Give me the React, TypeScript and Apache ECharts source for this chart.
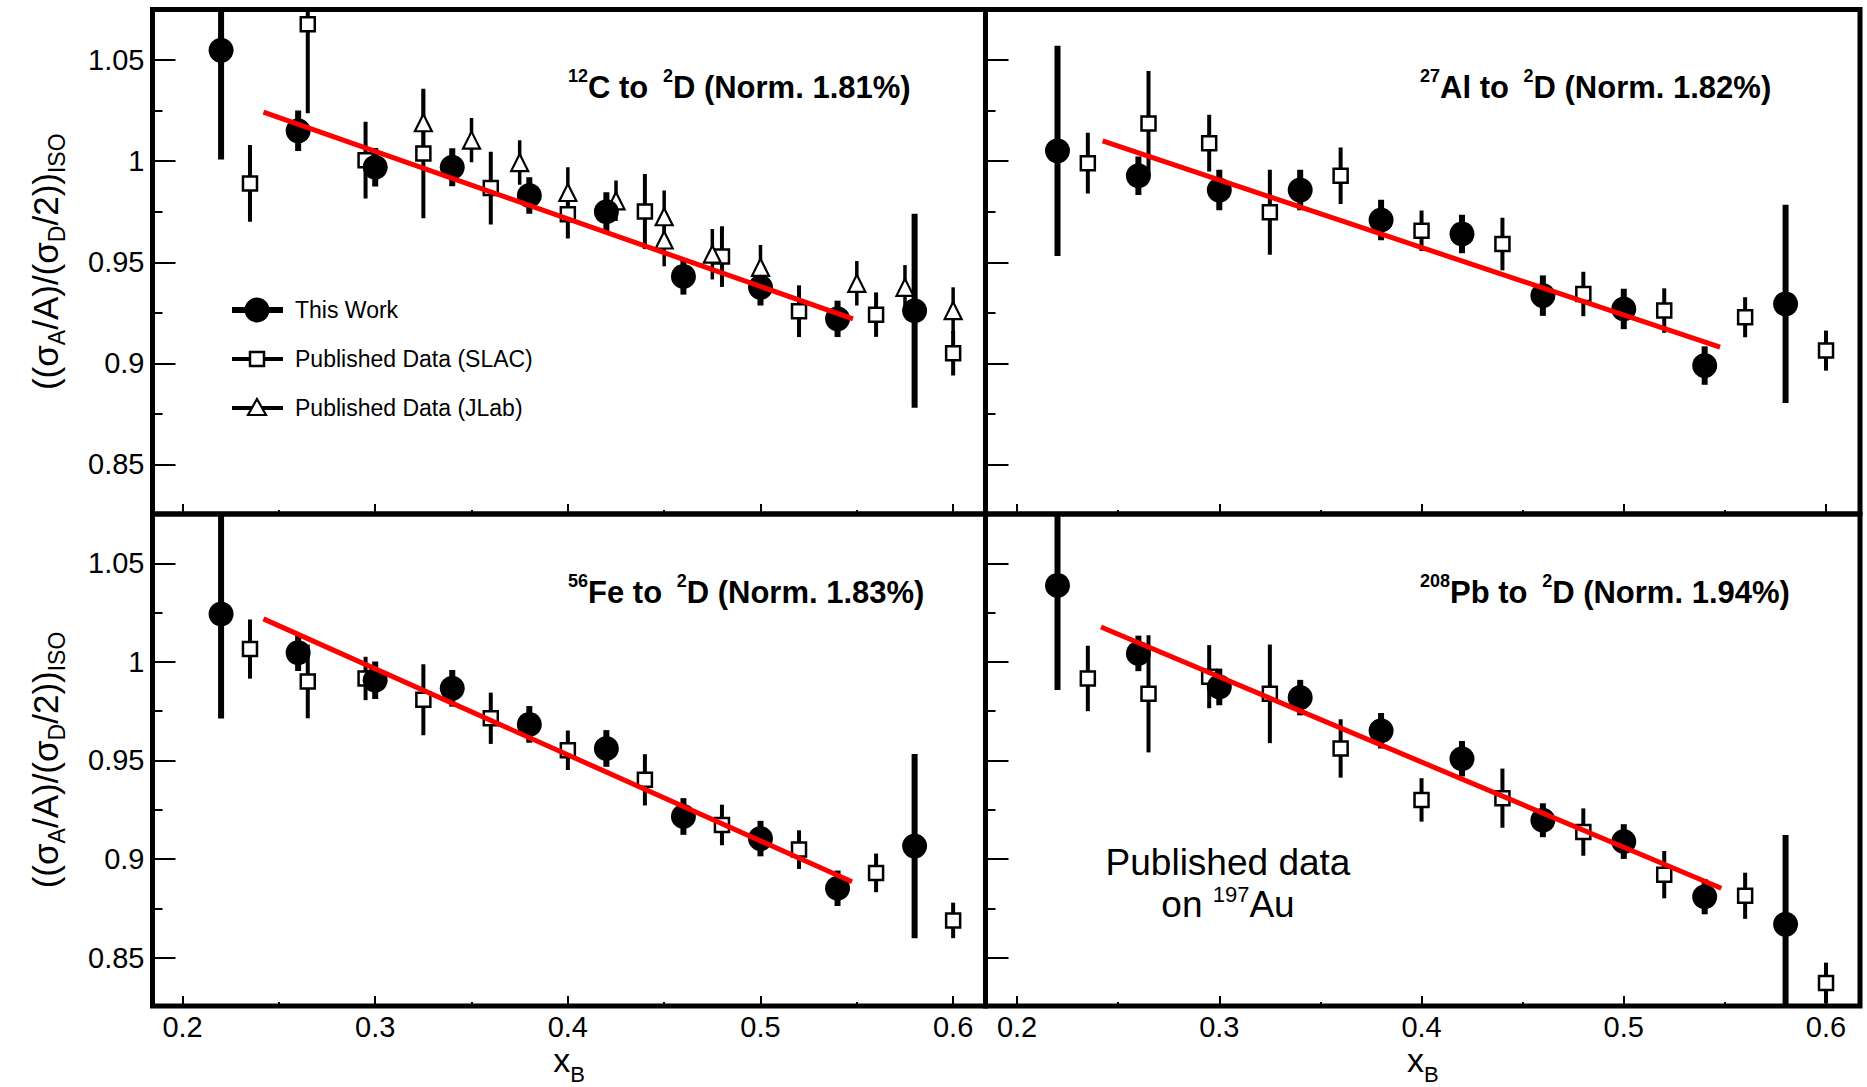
import React, { useEffect, useRef } from 'react';
import * as echarts from 'echarts';

const FONT = '"Liberation Sans", Arial, Helvetica, sans-serif';

// axis ticks
const xMajorTicks = [0.2, 0.3, 0.4, 0.5, 0.6];
const xMinorTicks = [0.25, 0.35, 0.45, 0.55];
const yMajorTicks = [0.85, 0.9, 0.95, 1, 1.05];
const yMinorTicks = [0.875, 0.925, 0.975, 1.025];

// x positions (x_B)
const thisWorkX = [0.22, 0.26, 0.3, 0.34, 0.38, 0.42, 0.46, 0.5, 0.54, 0.58];
const slacX = [0.235, 0.265, 0.295, 0.325, 0.36, 0.4, 0.44, 0.48, 0.52, 0.56, 0.6];
const jlabX = [0.325, 0.35, 0.375, 0.4, 0.425, 0.45, 0.45, 0.475, 0.5, 0.55, 0.575, 0.6];

// 12C
const carbonThisWorkY = [1.0548, 1.015, 0.997, 0.997, 0.983, 0.975, 0.943, 0.9376, 0.922, 0.926];
const carbonThisWorkErr = [0.054, 0.01, 0.0095, 0.0094, 0.009, 0.0096, 0.009, 0.009, 0.009, 0.048];
const carbonSlacY = [0.989, 1.0677, 1.0005, 1.0038, 0.9867, 0.9738, 0.9751, 0.9528, 0.9258, 0.9241, 0.905];
const carbonSlacErr = [0.019, 0.044, 0.019, 0.032, 0.018, 0.012, 0.0185, 0.015, 0.0128, 0.011, 0.011];
const carbonJlabY = [1.019, 1.0104, 0.9993, 0.9845, 0.9804, 0.9725, 0.961, 0.954, 0.9475, 0.9396, 0.9376, 0.9261];
const carbonJlabErr = [0.016, 0.011, 0.011, 0.0125, 0.01, 0.013, 0.013, 0.0125, 0.011, 0.011, 0.011, 0.0115];
const carbonFitX = [0.242, 0.548];
const carbonFitY = [1.0242, 0.922];

// 27Al
const aluminumThisWorkY = [1.0051, 0.9928, 0.9857, 0.9857, 0.9709, 0.964, 0.9335, 0.9269, 0.8989, 0.9294];
const aluminumThisWorkErr = [0.052, 0.0095, 0.01, 0.01, 0.01, 0.0095, 0.01, 0.01, 0.0095, 0.049];
const aluminumSlacY = [0.999, 1.0186, 1.0089, 0.9747, 0.9928, 0.9656, 0.959, 0.9343, 0.9261, 0.9228, 0.9063];
const aluminumSlacErr = [0.015, 0.026, 0.014, 0.021, 0.014, 0.01, 0.013, 0.011, 0.011, 0.0099, 0.0099];
const aluminumFitX = [0.2423, 0.5476];
const aluminumFitY = [1.01, 0.908];

// 56Fe
const ironThisWorkY = [1.0243, 1.0047, 0.9907, 0.9866, 0.9683, 0.9561, 0.9216, 0.9104, 0.8852, 0.9066];
const ironThisWorkErr = [0.053, 0.0093, 0.0095, 0.0093, 0.0093, 0.0093, 0.0093, 0.009, 0.009, 0.0467];
const ironSlacY = [1.0065, 0.9901, 0.9916, 0.9808, 0.9714, 0.9552, 0.9402, 0.9173, 0.9048, 0.893, 0.8689];
const ironSlacErr = [0.015, 0.0187, 0.011, 0.018, 0.013, 0.01, 0.013, 0.0103, 0.0098, 0.0098, 0.009];
const ironFitX = [0.242, 0.5475];
const ironFitY = [1.0218, 0.8885];

// 208Pb (published data on 197Au)
const leadThisWorkY = [1.0388, 1.0043, 0.9873, 0.9819, 0.9651, 0.9509, 0.9197, 0.9089, 0.8809, 0.8669];
const leadThisWorkErr = [0.053, 0.009, 0.0093, 0.009, 0.009, 0.009, 0.0086, 0.0088, 0.0089, 0.0453];
const leadSlacY = [0.9916, 0.9838, 0.9925, 0.9838, 0.9561, 0.93, 0.9309, 0.9137, 0.8921, 0.8814, 0.8372];
const leadSlacErr = [0.0166, 0.0297, 0.016, 0.025, 0.0148, 0.011, 0.015, 0.012, 0.012, 0.0117, 0.0103];
const leadFitX = [0.2415, 0.5482];
const leadFitY = [1.0177, 0.8852];

const X_MIN = 0.1844;
const X_MAX = 0.6168;
const Y_MIN = 0.8255;
const Y_MAX = 1.075;

const LEFT_X = 152.5, MID_X = 985.5, RIGHT_X = 1860;
const TOP_Y = 9.5, MID_Y = 514, BOTTOM_Y = 1006;

type Panel = {
  grid: { left: number; top: number; width: number; height: number };
  title: string;
  titleLeft: number;
  titleTop: number;
  tw: [number[], number[]];
  slac: [number[], number[]];
  jlab?: [number[], number[]];
  fit: [number[], number[]];
  xLabels: boolean;
  yLabels: boolean;
};

const panels: Panel[] = [
  {
    grid: { left: LEFT_X, top: TOP_Y, width: MID_X - LEFT_X, height: MID_Y - TOP_Y },
    title: '{sup|12}{b|C to }{supg|2}{b|D (Norm. 1.81%)}', titleLeft: 568, titleTop: 67,
    tw: [carbonThisWorkY, carbonThisWorkErr], slac: [carbonSlacY, carbonSlacErr], jlab: [carbonJlabY, carbonJlabErr],
    fit: [carbonFitX, carbonFitY], xLabels: false, yLabels: true,
  },
  {
    grid: { left: MID_X, top: TOP_Y, width: RIGHT_X - MID_X, height: MID_Y - TOP_Y },
    title: '{sup|27}{b|Al to }{supg|2}{b|D (Norm. 1.82%)}', titleLeft: 1420, titleTop: 67,
    tw: [aluminumThisWorkY, aluminumThisWorkErr], slac: [aluminumSlacY, aluminumSlacErr],
    fit: [aluminumFitX, aluminumFitY], xLabels: false, yLabels: false,
  },
  {
    grid: { left: LEFT_X, top: MID_Y, width: MID_X - LEFT_X, height: BOTTOM_Y - MID_Y },
    title: '{sup|56}{b|Fe to }{supg|2}{b|D (Norm. 1.83%)}', titleLeft: 568, titleTop: 572,
    tw: [ironThisWorkY, ironThisWorkErr], slac: [ironSlacY, ironSlacErr],
    fit: [ironFitX, ironFitY], xLabels: true, yLabels: true,
  },
  {
    grid: { left: MID_X, top: MID_Y, width: RIGHT_X - MID_X, height: BOTTOM_Y - MID_Y },
    title: '{sup|208}{b|Pb to }{supg|2}{b|D (Norm. 1.94%)}', titleLeft: 1420, titleTop: 572,
    tw: [leadThisWorkY, leadThisWorkErr], slac: [leadSlacY, leadSlacErr],
    fit: [leadFitX, leadFitY], xLabels: true, yLabels: false,
  },
];

const errorBars = (name: string, idx: number, xs: number[], ys: number[], errs: number[], width: number) => ({
  type: 'custom',
  name,
  xAxisIndex: idx,
  yAxisIndex: idx,
  clip: true,
  silent: true,
  z: 2,
  encode: { x: 0, y: 1 },
  data: xs.map((x, i) => [x, ys[i], errs[i]]),
  renderItem: (_p: any, api: any) => {
    const x = api.value(0);
    const y = api.value(1);
    const e = api.value(2);
    const a = api.coord([x, y + e]);
    const b = api.coord([x, y - e]);
    return {
      type: 'line',
      shape: { x1: a[0], y1: a[1], x2: b[0], y2: b[1] },
      style: { stroke: '#000', lineWidth: width },
    };
  },
});

const tickStyle = { color: '#000', width: 2 };
const labelStyle = { color: '#000', fontSize: 29, fontFamily: FONT };

function buildOption() {
  const grid: any[] = [];
  const xAxis: any[] = [];
  const yAxis: any[] = [];
  const series: any[] = [];
  const title: any[] = [];

  panels.forEach((p, i) => {
    grid.push({
      ...p.grid,
      show: true,
      borderColor: '#000',
      borderWidth: 5,
      backgroundColor: 'transparent',
      containLabel: false,
      outerBoundsMode: 'none',
    });
    const major = 2 * i;
    xAxis.push({
      type: 'value', gridIndex: i, min: X_MIN, max: X_MAX, position: 'bottom',
      axisLine: { show: false }, splitLine: { show: false },
      axisTick: { show: true, inside: true, length: 10, lineStyle: tickStyle, customValues: xMajorTicks },
      axisLabel: { show: p.xLabels, customValues: xMajorTicks, margin: 6, formatter: (v: number) => String(v), ...labelStyle },
      name: p.xLabels ? 'x{sub|B}' : '',
      nameLocation: 'middle',
      nameGap: 29,
      nameMoveOverlap: false,
      nameTextStyle: {
        color: '#000', fontSize: 34, fontFamily: FONT, lineHeight: 50, verticalAlign: 'top',
        rich: { sub: { fontSize: 22, fontFamily: FONT, color: '#000', lineHeight: 16, verticalAlign: 'bottom' } },
      },
    });
    xAxis.push({
      type: 'value', gridIndex: i, min: X_MIN, max: X_MAX, position: 'bottom',
      axisLine: { show: false }, splitLine: { show: false },
      axisTick: { show: true, inside: true, length: 4, lineStyle: tickStyle, customValues: xMinorTicks },
      axisLabel: { show: false },
    });
    yAxis.push({
      type: 'value', gridIndex: i, min: Y_MIN, max: Y_MAX, position: 'left',
      axisLine: { show: false }, splitLine: { show: false },
      axisTick: { show: true, inside: true, length: 23, lineStyle: tickStyle, customValues: yMajorTicks },
      axisLabel: { show: p.yLabels, customValues: yMajorTicks, margin: 8, formatter: (v: number) => String(v), ...labelStyle },
      name: p.yLabels ? '((σ{sub|A}/A)/(σ{sub|D}/2)){sub|ISO}' : '',
      nameLocation: 'middle',
      nameRotate: 90,
      nameGap: 84,
      nameMoveOverlap: false,
      nameTextStyle: {
        color: '#000', fontSize: 35, fontFamily: FONT, lineHeight: 47,
        rich: { sub: { fontSize: 23, fontFamily: FONT, color: '#000', lineHeight: 23, verticalAlign: 'bottom' } },
      },
    });
    yAxis.push({
      type: 'value', gridIndex: i, min: Y_MIN, max: Y_MAX, position: 'left',
      axisLine: { show: false }, splitLine: { show: false },
      axisTick: { show: true, inside: true, length: 10, lineStyle: tickStyle, customValues: yMinorTicks },
      axisLabel: { show: false },
    });

    const supStyle = { fontSize: 18, fontWeight: 'bold', fontFamily: FONT, color: '#000', lineHeight: 18, verticalAlign: 'top' };
    title.push({
      text: p.title,
      left: p.titleLeft,
      top: p.titleTop,
      padding: 0,
      textStyle: {
        rich: {
          b: { fontSize: 31, fontWeight: 'bold', fontFamily: FONT, color: '#000', lineHeight: 40, verticalAlign: 'middle' },
          sup: supStyle,
          supg: { ...supStyle, padding: [0, 0, 0, 6] },
        },
      },
    });

    series.push(errorBars('This Work error', major, thisWorkX, p.tw[0], p.tw[1], 6));
    series.push(errorBars('Published Data (SLAC) error', major, slacX, p.slac[0], p.slac[1], 4));
    if (p.jlab) series.push(errorBars('Published Data (JLab) error', major, jlabX, p.jlab[0], p.jlab[1], 3.5));

    series.push({
      type: 'scatter', name: 'Published Data (SLAC)', xAxisIndex: major, yAxisIndex: major, z: 3,
      symbol: 'rect', symbolSize: 14,
      itemStyle: { color: '#fff', borderColor: '#000', borderWidth: 2.5, opacity: 1 },
      data: slacX.map((x, k) => [x, p.slac[0][k]]),
    });
    if (p.jlab) {
      const jy = p.jlab[0];
      series.push({
        type: 'scatter', name: 'Published Data (JLab)', xAxisIndex: major, yAxisIndex: major, z: 3,
        symbol: 'triangle', symbolSize: 17,
        itemStyle: { color: '#fff', borderColor: '#000', borderWidth: 2.2, opacity: 1 },
        data: jlabX.map((x, k) => [x, jy[k]]),
      });
    }
    series.push({
      type: 'scatter', name: 'This Work', xAxisIndex: major, yAxisIndex: major, z: 4,
      symbol: 'circle', symbolSize: 25,
      itemStyle: { color: '#000', opacity: 1 },
      data: thisWorkX.map((x, k) => [x, p.tw[0][k]]),
    });
    series.push({
      type: 'line', name: 'Fit', xAxisIndex: major, yAxisIndex: major, z: 5,
      showSymbol: false, symbol: 'none',
      lineStyle: { color: '#ff0000', width: 5 },
      data: p.fit[0].map((x, k) => [x, p.fit[1][k]]),
    });
  });

  const legendText = { fontSize: 23, fontFamily: FONT, fill: '#000', verticalAlign: 'middle', align: 'left' };
  const graphic: any[] = [
    { type: 'line', shape: { x1: 232, y1: 310, x2: 283, y2: 310 }, style: { stroke: '#000', lineWidth: 6 } },
    { type: 'circle', shape: { cx: 257, cy: 310, r: 12.5 }, style: { fill: '#000' } },
    { type: 'text', x: 295, y: 310, style: { text: 'This Work', ...legendText } },
    { type: 'line', shape: { x1: 232, y1: 359, x2: 283, y2: 359 }, style: { stroke: '#000', lineWidth: 4 } },
    { type: 'rect', shape: { x: 250, y: 352, width: 14, height: 14 }, style: { fill: '#fff', stroke: '#000', lineWidth: 2.5 } },
    { type: 'text', x: 295, y: 359, style: { text: 'Published Data (SLAC)', ...legendText } },
    { type: 'line', shape: { x1: 232, y1: 408, x2: 283, y2: 408 }, style: { stroke: '#000', lineWidth: 4 } },
    { type: 'polygon', shape: { points: [[257, 399], [266, 415], [248, 415]] }, style: { fill: '#fff', stroke: '#000', lineWidth: 2.2 } },
    { type: 'text', x: 295, y: 408, style: { text: 'Published Data (JLab)', ...legendText } },
    {
      type: 'text', x: 1228, y: 883,
      style: {
        text: '{n|Published data}\n{n|on }{sup|197}{n|Au}',
        align: 'center', verticalAlign: 'middle', fill: '#000',
        rich: {
          n: { fontSize: 37, fontFamily: FONT, fill: '#000', lineHeight: 42, verticalAlign: 'middle' },
          sup: { fontSize: 22, fontFamily: FONT, fill: '#000', lineHeight: 22, verticalAlign: 'top' },
        },
      },
    },
  ];

  return {
    animation: false,
    backgroundColor: '#fff',
    title,
    grid,
    xAxis,
    yAxis,
    series,
    graphic,
  };
}

export default function App() {
  const ref = useRef<HTMLDivElement>(null);
  useEffect(() => {
    if (!ref.current) return;
    const chart = echarts.init(ref.current, undefined, { renderer: 'svg' });
    chart.setOption(buildOption() as any);
    return () => chart.dispose();
  }, []);
  return (
    <div
      ref={ref}
      style={{ position: 'absolute', left: 0, top: 0, width: 1867, height: 1087, background: '#fff' }}
    />
  );
}
